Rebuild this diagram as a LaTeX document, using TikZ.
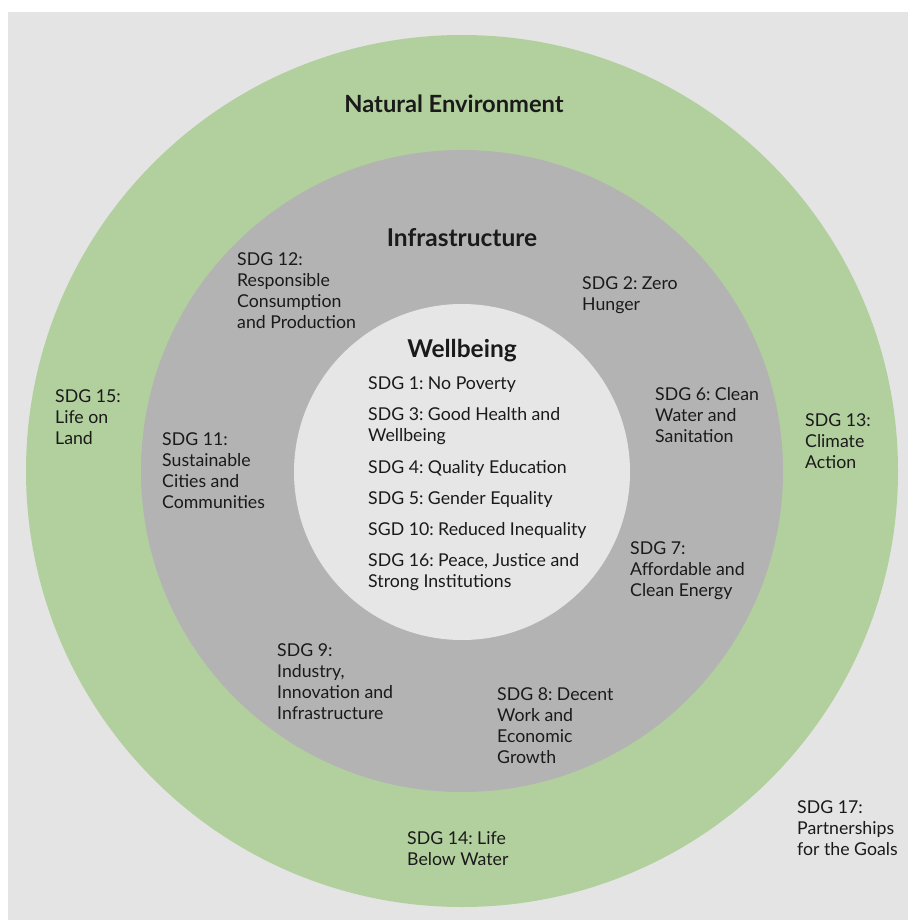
\documentclass[tikz,border=0pt]{standalone}
\usepackage{fontspec}
\setmainfont{Lato}
\frenchspacing
\definecolor{bggray}{HTML}{E4E4E4}
\definecolor{greenring}{HTML}{B2CF9E}
\definecolor{midgray}{HTML}{B3B3B3}
\definecolor{innergray}{HTML}{E6E6E6}
\definecolor{ink}{HTML}{1A1A1A}
\begin{document}
\begin{tikzpicture}[x=1pt,y=-1pt,
  lbl/.style={anchor=base west,align=left,inner sep=0pt,text=ink,font=\fontsize{17.7}{21}\selectfont\frenchspacing},
  head/.style={anchor=base,inner sep=0pt,text=ink,font=\fontsize{24.5}{28}\selectfont\bfseries}]
\useasboundingbox (0,0) rectangle (908,920);
\fill[white] (0,0) rectangle (908,920);
\fill[bggray] (8,12) rectangle (908,920);
\fill[greenring] (462,471) circle[radius=436];
\fill[midgray] (462,471) circle[radius=321];
\fill[innergray] (462,472) circle[radius=168];
% headings (anchor = baseline)
\node[head,font=\fontsize{23.7}{28}\selectfont\bfseries] (nat) at (454,113) {Natural Environment};
\node[head] (inf) at (462,246) {Infrastructure};
\node[head] (wel) at (462,357) {Wellbeing};
% wellbeing list (anchor = baseline of last line)
\node[lbl] (w1) at (368,389) {SDG 1: No Poverty};
\node[lbl] (w3) at (368,441) {SDG 3: Good Health and\\Wellbeing};
\node[lbl] (w4) at (368,473) {SDG 4: Quality Education};
\node[lbl] (w5) at (368,504) {SDG 5: Gender Equality};
\node[lbl] (w10) at (368,535) {SGD 10: Reduced Inequality};
\node[lbl] (w16) at (368,587) {SDG 16: Peace, Justice and\\Strong Institutions};
% infrastructure ring
\node[lbl] (s12) at (237,328) {SDG 12:\\Responsible\\Consumption\\and Production};
\node[lbl] (s2) at (582,310) {SDG 2: Zero\\Hunger};
\node[lbl] (s6) at (655,442) {SDG 6: Clean\\Water and\\Sanitation};
\node[lbl] (s11) at (162,508) {SDG 11:\\Sustainable\\Cities and\\Communities};
\node[lbl] (s7) at (630,596) {SDG 7:\\Affordable and\\Clean Energy};
\node[lbl] (s9) at (277,719) {SDG 9:\\Industry,\\Innovation and\\Infrastructure};
\node[lbl] (s8) at (497,763) {SDG 8: Decent\\Work and\\Economic\\Growth};
% natural environment ring
\node[lbl] (s15) at (55,444) {SDG 15:\\Life on\\Land};
\node[lbl] (s13) at (805,468) {SDG 13:\\Climate\\Action};
\node[lbl] (s14) at (407,865) {SDG 14: Life\\Below Water};
% outside
\node[lbl] (s17) at (797,855) {SDG 17:\\Partnerships\\for the Goals};
\end{tikzpicture}
\end{document}
